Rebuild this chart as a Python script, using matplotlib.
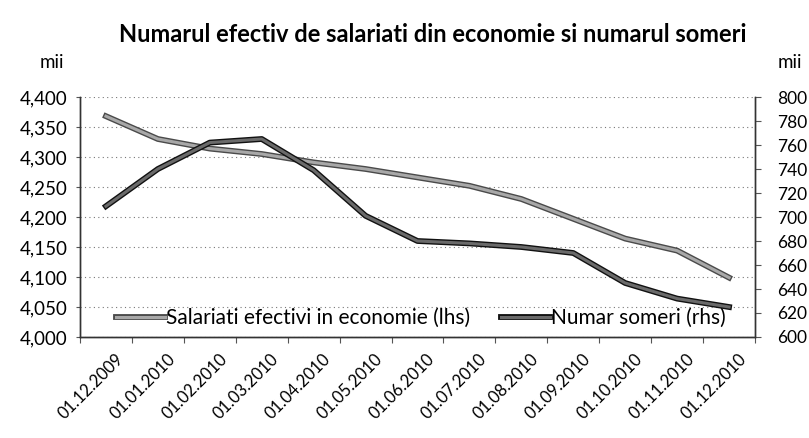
import numpy as np
import matplotlib
matplotlib.use('Agg')
import matplotlib.pyplot as plt
import matplotlib.patheffects as pe
from matplotlib.transforms import ScaledTranslation

plt.rcParams['font.family'] = ['Lato', 'DejaVu Sans']

dates = ['01.12.2009', '01.01.2010', '01.02.2010', '01.03.2010', '01.04.2010',
         '01.05.2010', '01.06.2010', '01.07.2010', '01.08.2010', '01.09.2010',
         '01.10.2010', '01.11.2010', '01.12.2010']
salariati = [4368, 4330, 4314, 4305, 4291, 4280, 4266, 4252, 4230, 4197, 4164, 4144, 4099]
someri = [709, 740, 762, 765, 739, 701, 680, 678, 675, 670, 645, 632, 625]

left_ticks = [4000, 4050, 4100, 4150, 4200, 4250, 4300, 4350, 4400]
right_ticks = [600, 620, 640, 660, 680, 700, 720, 740, 760, 780, 800]

fig = plt.figure(figsize=(8.09, 4.38), dpi=100)
ax = fig.add_axes([80 / 809, 1 - 337 / 438, 675 / 809, 240 / 438])
ax2 = ax.twinx()

x = np.arange(len(dates))

# series: outlined look like the scanned original
l1, = ax.plot(x, salariati, color='#a8a8a8', lw=2.2, zorder=3,
              path_effects=[pe.Stroke(linewidth=4.2, foreground='#4a4a4a'), pe.Normal()])
l2, = ax2.plot(x, someri, color='#6a6a6a', lw=2.2, zorder=3,
               path_effects=[pe.Stroke(linewidth=4.2, foreground='#111111'), pe.Normal()])

ax.set_xlim(-0.5, len(dates) - 0.5)
ax.set_ylim(4000, 4400)
ax2.set_ylim(600, 800)

ax.set_yticks(left_ticks)
ax.set_yticklabels([f'{v:,}' for v in left_ticks])
ax2.set_yticks(right_ticks)
ax2.set_yticklabels([str(v) for v in right_ticks])

ax.yaxis.grid(True, linestyle=(0, (1, 3)), color='#777777', lw=0.8)
ax.set_axisbelow(True)

# x ticks at category boundaries, labels at centres
ax.set_xticks(np.arange(-0.5, len(dates)), minor=False)
ax.set_xticklabels([])
ax.set_xticks(x, minor=True)
ax.set_xticklabels(dates, minor=True, rotation=45, ha='right', va='top',
                   rotation_mode='anchor', fontsize=12)
ax.tick_params(axis='x', which='minor', length=0, pad=10)
ax.tick_params(axis='x', which='major', length=4, direction='out', color='#555')
offset = ScaledTranslation(9 / 100, 0, fig.dpi_scale_trans)
for lab in ax.get_xticklabels(minor=True):
    lab.set_transform(lab.get_transform() + offset)

ax.tick_params(axis='y', labelsize=13.5, length=3, pad=6, color='#555')
ax2.tick_params(axis='y', labelsize=12.5, length=4, pad=12, color='#555')

for a in (ax, ax2):
    a.spines['top'].set_visible(False)
    for s in ('left', 'right', 'bottom'):
        a.spines[s].set_color('#333333')
        a.spines[s].set_linewidth(1.0)

fig.text(0.535, 1 - 35 / 438, 'Numarul efectiv de salariati din economie si numarul someri',
         ha='center', va='center', fontsize=17, fontweight='bold')
fig.text(40 / 809, 1 - 63 / 438, 'mii', ha='left', va='center', fontsize=13.5)
fig.text(778 / 809, 1 - 63 / 438, 'mii', ha='left', va='center', fontsize=13.5)

leg = ax.legend([l1, l2], ['Salariati efectivi in economie (lhs)', 'Numar someri (rhs)'],
                loc='center left', bbox_to_anchor=(0.053, 0.08), ncol=2, frameon=False,
                fontsize=15, handlelength=2.35, handletextpad=0.05, columnspacing=1.5,
                borderpad=0, borderaxespad=0)
leg.set_zorder(5)

fig.savefig('out.png', dpi=100)
